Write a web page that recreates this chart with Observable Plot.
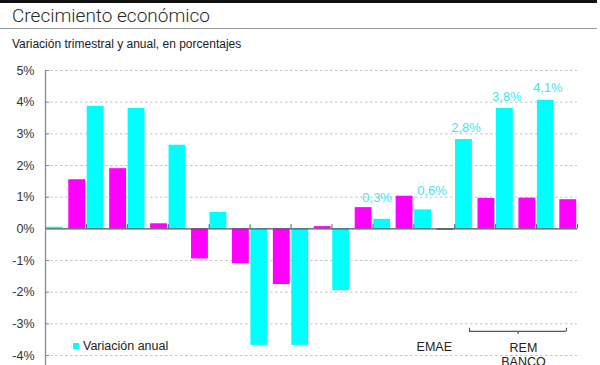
<!DOCTYPE html>
<html>
<head>
<meta charset="utf-8">
<script src="https://cdn.jsdelivr.net/npm/d3@7"></script>
<script src="https://cdn.jsdelivr.net/npm/@observablehq/plot@0.6"></script>
<style>
  html, body { margin: 0; padding: 0; overflow: hidden; background: #fff; }
  body { width: 600px; height: 365px; position: relative; font-family: "Liberation Sans", Arial, sans-serif; }
  #topline { position: absolute; left: 0; top: 0; width: 597px; height: 2.5px; background: #111; }
  #title { position: absolute; left: 12px; top: 6px; font-size: 19px; line-height: 19px; color: #2a2a2a; font-family: Roboto, "Liberation Sans", sans-serif; font-weight: 300; }
  #rule2 { position: absolute; left: 0; top: 28px; width: 597px; height: 0; border-top: 1.5px solid #9c9c9c; }
  #subtitle { position: absolute; left: 12px; top: 38px; font-size: 12px; line-height: 12px; color: #1a1a1a; }
  #chart { position: absolute; left: 0; top: 55px; }
  #legend { position: absolute; left: 73px; top: 340px; font-size: 12.5px; line-height: 12.5px; color: #222; white-space: nowrap; }
  #legend .sw { display: inline-block; width: 6px; height: 6px; background: #00ffff; margin-right: 4px; vertical-align: 1px; }
</style>
</head>
<body>
<div id="topline"></div>
<div id="title">Crecimiento económico</div>
<div id="rule2"></div>
<div id="subtitle">Variación trimestral y anual, en porcentajes</div>
<div id="chart"></div>
<div id="legend"><span class="sw"></span>Variación anual</div>
<script>
// Data (percent)
const variacionAnual = [0.05, 3.87, 3.8, 2.64, 0.52, -3.68, -3.68, -1.95, 0.3, 0.6, 2.82, 3.8, 4.06];
const variacionTrimestral = [1.55, 1.9, 0.16, -0.95, -1.1, -1.76, 0.07, 0.67, 1.03, -0.05, 0.96, 0.97, 0.92];
const etiquetasAnual = ["", "", "", "", "", "", "", "", "0,3%", "0,6%", "2,8%", "3,8%", "4,1%"];
const yTicks = [-4, -3, -2, -1, 0, 1, 2, 3, 4, 5];
const grupos = d3.range(variacionAnual.length + 1).map(i => i * 2);

const anual = variacionAnual.map((v, i) => ({slot: 2 * i, v, label: etiquetasAnual[i], i}));
const trimestral = variacionTrimestral.map((v, i) => ({slot: 2 * i + 1, v, i}));

const CYAN = "#00ffff", MAGENTA = "#ff00ff";

const chart = Plot.plot({
  width: 600,
  height: 340,
  marginLeft: 45,
  marginRight: 23,
  marginTop: 15,
  marginBottom: 8.33,
  style: {fontFamily: "Liberation Sans, Arial, sans-serif", background: "transparent", overflow: "visible"},
  x: {type: "linear", domain: [0, 26], axis: null},
  y: {domain: [-5, 5], axis: null, label: null},
  marks: [
    Plot.ruleY(yTicks.filter(d => d !== 0).concat([-5]), {x1: 0, x2: 26, stroke: "#c4c4c4", strokeDasharray: "2.5,2.5"}),
    Plot.rectY(anual, {x1: "slot", x2: d => d.slot + 1, y: "v", fill: CYAN, insetLeft: 0.8, insetRight: 2.8}),
    Plot.rectY(trimestral, {x1: "slot", x2: d => d.slot + 1, y: "v", fill: d => Math.abs(d.v) < 0.06 ? "#777" : MAGENTA, insetLeft: 2.8, insetRight: 0.8}),
    Plot.ruleY([0], {x1: 0, x2: 26, stroke: "#4d5858", strokeWidth: 1.2}),
    Plot.ruleX(grupos, {y1: 0, y2: 0.13, stroke: "#4d5858", strokeWidth: 1}),
    Plot.ruleX([0], {y1: -5, y2: 5, stroke: "#8a8a8a", strokeWidth: 1.3}),
    Plot.ruleY(yTicks, {x1: 0, x2: 0.2, stroke: "#8a8a8a", strokeWidth: 1}),
    Plot.axisY(yTicks, {tickSize: 0, tickPadding: 11, tickFormat: d => `${d}%`, fontSize: 12.5, fill: "#333", label: null}),
    // data labels
    Plot.text(anual.filter(d => d.i === 8), {x: d => d.slot + 0.5, y: "v", text: "label", dx: -6, dy: -22, fill: "#3ee6f2", fontSize: 13}),
    Plot.text(anual.filter(d => d.i === 9), {x: d => d.slot + 0.5, y: "v", text: "label", dx: 8, dy: -19, fill: "#3ee6f2", fontSize: 13}),
    Plot.text(anual.filter(d => d.i >= 10), {x: d => d.slot + 0.5, y: "v", text: "label", dx: 1, dy: -12, fill: "#3ee6f2", fontSize: 13}),
    // annotations
    Plot.text(["EMAE"], {x: 19, y: -3.73, text: d => d, fontSize: 12.5, fill: "#222", lineAnchor: "middle"}),
    Plot.text(["REM\nBANCO"], {x: 23.36, y: -3.59, text: d => d, fontSize: 12.5, fill: "#222", lineAnchor: "top", lineHeight: 1.1}),
    Plot.ruleY([-3.24], {x1: 20.72, x2: 25.46, stroke: "#555", strokeWidth: 1.2}),
    Plot.ruleX([20.72, 25.46], {y1: -3.24, y2: -3.14, stroke: "#555", strokeWidth: 1.2}),
    Plot.ruleX([23.1], {y1: -3.24, y2: -3.34, stroke: "#555", strokeWidth: 1.2})
  ]
});
document.getElementById("chart").appendChild(chart);
</script>
</body>
</html>
